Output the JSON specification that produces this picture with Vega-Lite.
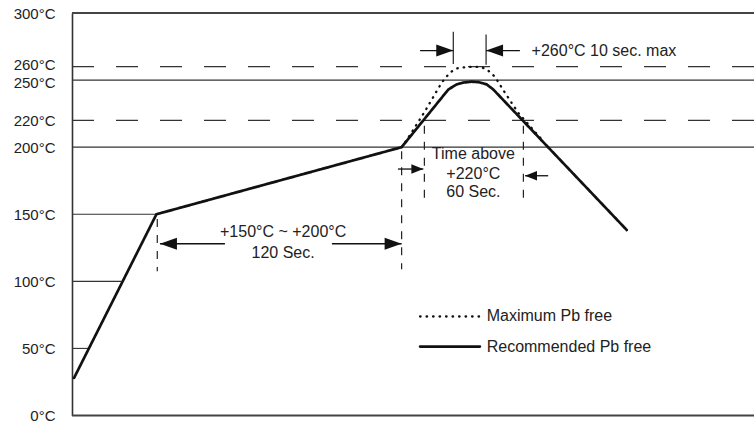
{
  "$schema": "https://vega.github.io/schema/vega-lite/v6.json",
  "autosize": "none",
  "padding": {"left": 72, "top": 13, "right": 0, "bottom": 10},
  "width": 682,
  "height": 402.5,
  "config": {
    "view": {"stroke": null},
    "font": "Liberation Sans",
    "text": {"font": "Liberation Sans", "fontSize": 16, "color": "#222"},
    "axisX": {"disable": true},
    "axisY": {"title": null, "ticks": false, "grid": false, "domain": true, "domainColor": "#333", "domainWidth": 1.6,
      "labelPadding": 17, "labelFontSize": 15, "labelColor": "#222", "labelFont": "Liberation Sans",
      "labelOverlap": false, "labelFlush": false, "labelBound": false}
  },
  "datasets": {
    "frameLines": [
      {"T": 300, "t0": 0, "t1": 332.7},
      {"T": 0, "t0": 0, "t1": 332.7}
    ],
    "refLines": [
      {"T": 250, "t0": 0, "t1": 332.7},
      {"T": 200, "t0": 0, "t1": 332.7},
      {"T": 150, "t0": 0, "t1": 41.2},
      {"T": 100, "t0": 0, "t1": 24},
      {"T": 50, "t0": 0, "t1": 7.8}
    ],
    "limitLines": [
      {"T": 260, "t0": 0, "t1": 332.7},
      {"T": 220, "t0": 0, "t1": 332.7}
    ],
    "profile": [
      {"series": "Recommended Pb free", "t": 1, "T": 28},
      {"series": "Recommended Pb free", "t": 41.2, "T": 150},
      {"series": "Recommended Pb free", "t": 160.8, "T": 200},
      {"series": "Recommended Pb free", "t": 183.6, "T": 243},
      {"series": "Recommended Pb free", "t": 187.7, "T": 246.8},
      {"series": "Recommended Pb free", "t": 191.2, "T": 248.2},
      {"series": "Recommended Pb free", "t": 195, "T": 248.8},
      {"series": "Recommended Pb free", "t": 198.5, "T": 248.4},
      {"series": "Recommended Pb free", "t": 202.3, "T": 246.8},
      {"series": "Recommended Pb free", "t": 205.5, "T": 243},
      {"series": "Recommended Pb free", "t": 270.6, "T": 138.3},
      {"series": "Maximum Pb free", "t": 160.8, "T": 200},
      {"series": "Maximum Pb free", "t": 164.9, "T": 209.1},
      {"series": "Maximum Pb free", "t": 172.2, "T": 226.8},
      {"series": "Maximum Pb free", "t": 180.3, "T": 248},
      {"series": "Maximum Pb free", "t": 184.4, "T": 255.7},
      {"series": "Maximum Pb free", "t": 188.4, "T": 259.1},
      {"series": "Maximum Pb free", "t": 194.1, "T": 259.8},
      {"series": "Maximum Pb free", "t": 199, "T": 259.8},
      {"series": "Maximum Pb free", "t": 202.3, "T": 258.1},
      {"series": "Maximum Pb free", "t": 206.3, "T": 252.5},
      {"series": "Maximum Pb free", "t": 211.2, "T": 240.6},
      {"series": "Maximum Pb free", "t": 217.7, "T": 225.6},
      {"series": "Maximum Pb free", "t": 222.6, "T": 217.1},
      {"series": "Maximum Pb free", "t": 229, "T": 206}
    ],
    "markersDashed": [
      {"t": 41.6, "T0": 107.5, "T1": 146.5},
      {"t": 160.8, "T0": 109, "T1": 197},
      {"t": 171.9, "T0": 161, "T1": 216},
      {"t": 220.2, "T0": 161, "T1": 216}
    ],
    "markersSolid": [
      {"t": 186, "T0": 262, "T1": 286},
      {"t": 202, "T0": 261.5, "T1": 284}
    ],
    "shafts": [
      {"T": 128, "t0": 42.9, "t1": 74.6},
      {"T": 128, "t0": 126.8, "t1": 160.8},
      {"T": 183.7, "t0": 159, "t1": 171.4},
      {"T": 178.7, "t0": 221, "t1": 232.3},
      {"T": 272, "t0": 169.8, "t1": 186},
      {"T": 272, "t0": 202, "t1": 218.5}
    ],
    "arrowheads": [
      {"arrow": "span", "dir": "left", "t": 42.9, "T": 128},
      {"arrow": "span", "dir": "right", "t": 160.8, "T": 128},
      {"arrow": "window", "dir": "right", "t": 186, "T": 272},
      {"arrow": "window", "dir": "left", "t": 202, "T": 272},
      {"arrow": "above220", "dir": "right", "t": 171.4, "T": 183.7},
      {"arrow": "above220", "dir": "left", "t": 221, "T": 178.7}
    ],
    "notes": [
      {"text": "+150°C ~ +200°C", "t": 103, "T": 136.5},
      {"text": "120 Sec.", "t": 103, "T": 121.3},
      {"text": "Time above", "t": 195.8, "T": 195},
      {"text": "+220°C", "t": 195.8, "T": 180},
      {"text": "60 Sec.", "t": 195.8, "T": 166.3}
    ],
    "notesLeft": [
      {"text": "+260°C 10 sec. max", "t": 224.2, "T": 272}
    ],
    "legendKey": [
      {"series": "Maximum Pb free", "t0": 169.8, "t1": 199, "tl": 202.3, "T": 73.8},
      {"series": "Recommended Pb free", "t0": 169.8, "t1": 199, "tl": 202.3, "T": 51.4}
    ]
  },
  "layer": [
    {
      "data": {"name": "frameLines"},
      "mark": {"type": "rule", "color": "#444", "strokeWidth": 1.8},
      "encoding": {
        "x": {"field": "t0", "type": "quantitative", "scale": {"domain": [0, 332.7], "nice": false, "zero": false}},
        "x2": {"field": "t1"},
        "y": {"field": "T", "type": "quantitative", "scale": {"domain": [0, 300], "nice": false},
          "axis": {"values": [0, 50, 100, 150, 200, 220, 250, 260, 300], "labelExpr": "datum.value + '°C'",
            "labelOffset": {"condition": [{"test": "datum.value == 260", "value": -2}, {"test": "datum.value == 250", "value": 2.5}], "value": 0}}}
      }
    },
    {
      "data": {"name": "refLines"},
      "mark": {"type": "rule", "color": "#333", "strokeWidth": 1.1},
      "encoding": {
        "x": {"field": "t0", "type": "quantitative"},
        "x2": {"field": "t1"},
        "y": {"field": "T", "type": "quantitative"}
      }
    },
    {
      "data": {"name": "limitLines"},
      "mark": {"type": "rule", "color": "#333", "strokeWidth": 1.1, "strokeDash": [22, 22]},
      "encoding": {
        "x": {"field": "t0", "type": "quantitative"},
        "x2": {"field": "t1"},
        "y": {"field": "T", "type": "quantitative"}
      }
    },
    {
      "data": {"name": "markersDashed"},
      "mark": {"type": "rule", "color": "#222", "strokeWidth": 1.2, "strokeDash": [8, 8]},
      "encoding": {
        "x": {"field": "t", "type": "quantitative"},
        "y": {"field": "T1", "type": "quantitative"},
        "y2": {"field": "T0"}
      }
    },
    {
      "data": {"name": "markersSolid"},
      "mark": {"type": "rule", "color": "#222", "strokeWidth": 1.2},
      "encoding": {
        "x": {"field": "t", "type": "quantitative"},
        "y": {"field": "T1", "type": "quantitative"},
        "y2": {"field": "T0"}
      }
    },
    {
      "data": {"name": "shafts"},
      "mark": {"type": "rule", "color": "#111", "strokeWidth": 1.3},
      "encoding": {
        "x": {"field": "t0", "type": "quantitative"},
        "x2": {"field": "t1"},
        "y": {"field": "T", "type": "quantitative"}
      }
    },
    {
      "data": {"name": "arrowheads"},
      "transform": [{"filter": "datum.arrow != 'above220' && datum.dir == 'right'"}],
      "mark": {"type": "point", "filled": true, "color": "#111", "opacity": 1, "strokeWidth": 0, "size": 289, "shape": "M0,0L-2,-0.7L-2,0.7Z"},
      "encoding": {
        "x": {"field": "t", "type": "quantitative"},
        "y": {"field": "T", "type": "quantitative"}
      }
    },
    {
      "data": {"name": "arrowheads"},
      "transform": [{"filter": "datum.arrow != 'above220' && datum.dir == 'left'"}],
      "mark": {"type": "point", "filled": true, "color": "#111", "opacity": 1, "strokeWidth": 0, "size": 289, "shape": "M0,0L2,-0.7L2,0.7Z"},
      "encoding": {
        "x": {"field": "t", "type": "quantitative"},
        "y": {"field": "T", "type": "quantitative"}
      }
    },
    {
      "data": {"name": "arrowheads"},
      "transform": [{"filter": "datum.arrow == 'above220' && datum.dir == 'right'"}],
      "mark": {"type": "point", "filled": true, "color": "#111", "opacity": 1, "strokeWidth": 0, "size": 144, "shape": "M0,0L-2,-0.8L-2,0.8Z"},
      "encoding": {
        "x": {"field": "t", "type": "quantitative"},
        "y": {"field": "T", "type": "quantitative"}
      }
    },
    {
      "data": {"name": "arrowheads"},
      "transform": [{"filter": "datum.arrow == 'above220' && datum.dir == 'left'"}],
      "mark": {"type": "point", "filled": true, "color": "#111", "opacity": 1, "strokeWidth": 0, "size": 144, "shape": "M0,0L2,-0.8L2,0.8Z"},
      "encoding": {
        "x": {"field": "t", "type": "quantitative"},
        "y": {"field": "T", "type": "quantitative"}
      }
    },
    {
      "data": {"name": "profile"},
      "mark": {"type": "line", "color": "#111", "strokeCap": "round", "strokeJoin": "round"},
      "encoding": {
        "x": {"field": "t", "type": "quantitative"},
        "y": {"field": "T", "type": "quantitative"},
        "strokeDash": {"field": "series", "type": "nominal", "legend": null,
          "scale": {"domain": ["Maximum Pb free", "Recommended Pb free"], "range": [[0.5, 6], [1, 0]]}},
        "strokeWidth": {"field": "series", "type": "nominal", "legend": null,
          "scale": {"domain": ["Maximum Pb free", "Recommended Pb free"], "range": [2.3, 2.7]}}
      }
    },
    {
      "data": {"name": "legendKey"},
      "mark": {"type": "rule", "color": "#111", "strokeCap": "round"},
      "encoding": {
        "x": {"field": "t0", "type": "quantitative"},
        "x2": {"field": "t1"},
        "y": {"field": "T", "type": "quantitative"},
        "strokeDash": {"field": "series", "type": "nominal", "legend": null},
        "strokeWidth": {"field": "series", "type": "nominal", "legend": null}
      }
    },
    {
      "data": {"name": "legendKey"},
      "mark": {"type": "text", "align": "left", "baseline": "middle"},
      "encoding": {
        "x": {"field": "tl", "type": "quantitative"},
        "y": {"field": "T", "type": "quantitative"},
        "text": {"field": "series"}
      }
    },
    {
      "data": {"name": "notes"},
      "mark": {"type": "text", "align": "center", "baseline": "middle"},
      "encoding": {
        "x": {"field": "t", "type": "quantitative"},
        "y": {"field": "T", "type": "quantitative"},
        "text": {"field": "text"}
      }
    },
    {
      "data": {"name": "notesLeft"},
      "mark": {"type": "text", "align": "left", "baseline": "middle"},
      "encoding": {
        "x": {"field": "t", "type": "quantitative"},
        "y": {"field": "T", "type": "quantitative"},
        "text": {"field": "text"}
      }
    }
  ]
}
